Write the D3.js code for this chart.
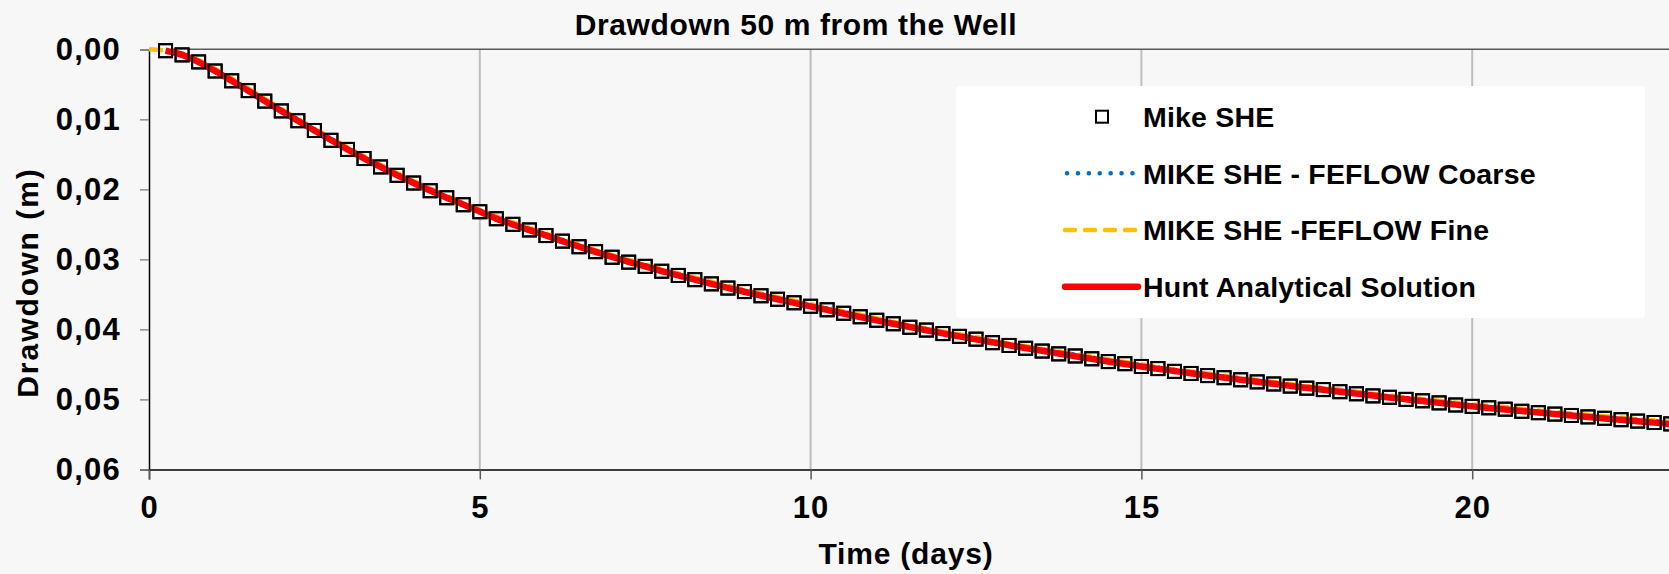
<!DOCTYPE html>
<html>
<head>
<meta charset="utf-8">
<script src="https://cdn.jsdelivr.net/npm/d3@7/dist/d3.min.js"></script>
<style>
  html, body { margin: 0; padding: 0; background: #f7f7f7; }
  svg { display: block; }
  text { font-family: "Liberation Sans", Arial, sans-serif; font-weight: bold; fill: #000; }
</style>
</head>
<body>
<svg id="chart" width="1669" height="574"></svg>
<script>
// Sample times (days) of the MIKE SHE output and the Hunt solution
const days = [
  0.25, 0.5, 0.75, 1, 1.25, 1.5, 1.75, 2, 2.25, 2.5, 2.75, 3, 3.25, 3.5, 3.75, 4, 4.25, 4.5, 4.75, 5,
  5.25, 5.5, 5.75, 6, 6.25, 6.5, 6.75, 7, 7.25, 7.5, 7.75, 8, 8.25, 8.5, 8.75, 9, 9.25, 9.5, 9.75, 10,
  10.25, 10.5, 10.75, 11, 11.25, 11.5, 11.75, 12, 12.25, 12.5, 12.75, 13, 13.25, 13.5, 13.75, 14, 14.25, 14.5, 14.75, 15,
  15.25, 15.5, 15.75, 16, 16.25, 16.5, 16.75, 17, 17.25, 17.5, 17.75, 18, 18.25, 18.5, 18.75, 19, 19.25, 19.5, 19.75, 20,
  20.25, 20.5, 20.75, 21, 21.25, 21.5, 21.75, 22, 22.25, 22.5, 22.75, 23
];

// Drawdown (m) simulated by MIKE SHE
const mikeShe = [
  0.0002, 0.0008, 0.0018, 0.0031, 0.0045, 0.0059, 0.0074, 0.0088, 0.0102, 0.0116, 0.0130, 0.0143, 0.0156, 0.0168, 0.0180, 0.0191, 0.0202, 0.0212, 0.0222, 0.0232,
  0.0242, 0.0250, 0.0258, 0.0266, 0.0274, 0.0282, 0.0289, 0.0297, 0.0304, 0.0310, 0.0317, 0.0323, 0.0329, 0.0335, 0.0341, 0.0346, 0.0352, 0.0357, 0.0362, 0.0367,
  0.0372, 0.0377, 0.0382, 0.0387, 0.0392, 0.0397, 0.0401, 0.0406, 0.0410, 0.0414, 0.0419, 0.0423, 0.0427, 0.0431, 0.0435, 0.0438, 0.0442, 0.0446, 0.0449, 0.0453,
  0.0456, 0.0460, 0.0463, 0.0466, 0.0469, 0.0472, 0.0475, 0.0478, 0.0481, 0.0484, 0.0486, 0.0489, 0.0492, 0.0495, 0.0497, 0.0500, 0.0502, 0.0505, 0.0508, 0.0510,
  0.0512, 0.0514, 0.0517, 0.0519, 0.0521, 0.0523, 0.0525, 0.0527, 0.0529, 0.0531, 0.0533, 0.0535
];

// Hunt analytical solution (m)
const hunt = [
  0.00018, 0.00079, 0.00181, 0.00310, 0.00449, 0.00592, 0.00737, 0.00880, 0.01021, 0.01160, 0.01296, 0.01429, 0.01557, 0.01680, 0.01797, 0.01909, 0.02016, 0.02119, 0.02218, 0.02318,
  0.02418, 0.02502, 0.02582, 0.02658, 0.02741, 0.02818, 0.02893, 0.02965, 0.03035, 0.03102, 0.03167, 0.03230, 0.03291, 0.03350, 0.03407, 0.03463, 0.03517, 0.03570, 0.03621, 0.03671,
  0.03722, 0.03773, 0.03823, 0.03872, 0.03920, 0.03966, 0.04012, 0.04057, 0.04100, 0.04143, 0.04185, 0.04226, 0.04267, 0.04306, 0.04345, 0.04383, 0.04421, 0.04458, 0.04494, 0.04530,
  0.04563, 0.04595, 0.04627, 0.04658, 0.04689, 0.04719, 0.04749, 0.04778, 0.04807, 0.04835, 0.04863, 0.04891, 0.04918, 0.04945, 0.04972, 0.04998, 0.05024, 0.05050, 0.05075, 0.05100,
  0.05122, 0.05144, 0.05166, 0.05188, 0.05209, 0.05230, 0.05251, 0.05272, 0.05292, 0.05312, 0.05332, 0.05352
];

// Coupled MIKE SHE - FEFLOW runs, half-day output
const fineDays = [
  0, 0.5, 1, 1.5, 2, 2.5, 3, 3.5, 4, 4.5, 5, 5.5, 6, 6.5, 7, 7.5, 8, 8.5, 9, 9.5, 10, 10.5, 11, 11.5,
  12, 12.5, 13, 13.5, 14, 14.5, 15, 15.5, 16, 16.5, 17, 17.5, 18, 18.5, 19, 19.5, 20, 20.5, 21, 21.5, 22, 22.5, 23
];
const feflowFine = [
  0, 0.0006, 0.0028, 0.0056, 0.0085, 0.0113, 0.0140, 0.0165, 0.0188, 0.0209, 0.0229, 0.0247, 0.0263, 0.0279, 0.0294, 0.0307, 0.0320, 0.0332, 0.0343, 0.0354, 0.0364, 0.0374, 0.0384, 0.0394,
  0.0403, 0.0411, 0.0420, 0.0428, 0.0435, 0.0443, 0.0450, 0.0457, 0.0463, 0.0469, 0.0475, 0.0481, 0.0486, 0.0492, 0.0497, 0.0502, 0.0507, 0.0511, 0.0516, 0.0520, 0.0524, 0.0528, 0.0532
];
const coarseDays = [
  0.5, 1, 1.5, 2, 2.5, 3, 3.5, 4, 4.5, 5, 5.5, 6, 6.5, 7, 7.5, 8, 8.5, 9, 9.5, 10, 10.5, 11, 11.5,
  12, 12.5, 13, 13.5, 14, 14.5, 15, 15.5, 16, 16.5, 17, 17.5, 18, 18.5, 19, 19.5, 20, 20.5, 21, 21.5, 22, 22.5, 23
];
const feflowCoarse = [
  0.0006, 0.0029, 0.0057, 0.0086, 0.0114, 0.0141, 0.0166, 0.0189, 0.0210, 0.0230, 0.0248, 0.0264, 0.0280, 0.0295, 0.0308, 0.0321, 0.0333, 0.0344, 0.0355, 0.0365, 0.0375, 0.0385, 0.0395,
  0.0404, 0.0412, 0.0421, 0.0429, 0.0436, 0.0444, 0.0451, 0.0458, 0.0464, 0.0470, 0.0476, 0.0482, 0.0487, 0.0493, 0.0498, 0.0503, 0.0508, 0.0512, 0.0517, 0.0521, 0.0525, 0.0529, 0.0533
];

const xTicks = [0, 5, 10, 15, 20];
const yTicks = [0, 0.01, 0.02, 0.03, 0.04, 0.05, 0.06];

const titleText = "Drawdown 50 m from the Well";
const xTitle = "Time (days)";
const yTitle = "Drawdown (m)";
const seriesNames = ["Mike SHE", "MIKE SHE - FEFLOW Coarse", "MIKE SHE -FEFLOW Fine", "Hunt Analytical Solution"];

const W = 1669, H = 574;
const svg = d3.select("#chart");

const x = d3.scaleLinear().domain([0, 25]).range([149, 1803]);
const y = d3.scaleLinear().domain([0, 0.06]).range([49.3, 469.4]);
const fmtY = v => d3.format(".2f")(v).replace(".", ",");

svg.append("rect").attr("width", W).attr("height", H).attr("fill", "#f7f7f7");

// vertical gridlines
svg.append("g").selectAll("line")
  .data(xTicks.filter(d => d > 0))
  .join("line")
  .attr("x1", d => x(d)).attr("x2", d => x(d))
  .attr("y1", y(0)).attr("y2", y(0.06))
  .attr("stroke", "#bdbdbd").attr("stroke-width", 2);

// top border of the plot area
svg.append("line")
  .attr("x1", x(0)).attr("x2", W).attr("y1", y(0)).attr("y2", y(0))
  .attr("stroke", "#595959").attr("stroke-width", 1.5);

// y axis
const yAxis = svg.append("g").attr("transform", `translate(${x(0)},0)`)
  .call(d3.axisLeft(y).tickValues(yTicks).tickSize(9).tickPadding(19).tickFormat(fmtY));
yAxis.select(".domain").attr("stroke", "#000").attr("stroke-width", 1.5);
yAxis.selectAll(".tick line").attr("stroke", "#8c8c8c").attr("stroke-width", 1.5);
yAxis.selectAll(".tick text").attr("font-size", 31).attr("letter-spacing", 1.2)
  .attr("font-family", null).attr("fill", "#000");

// x axis
const xAxis = svg.append("g").attr("transform", `translate(0,${y(0.06)})`)
  .call(d3.axisBottom(x).tickValues(xTicks).tickSize(10).tickPadding(17).tickFormat(d3.format("d")));
xAxis.select(".domain").attr("stroke", "#000").attr("stroke-width", 1.5);
xAxis.selectAll(".tick line").attr("stroke", "#595959").attr("stroke-width", 1.5);
xAxis.selectAll(".tick text").attr("font-size", 31).attr("letter-spacing", 1)
  .attr("font-family", null).attr("fill", "#000");

// titles
svg.append("text").attr("x", 796).attr("y", 35).attr("text-anchor", "middle")
  .attr("font-size", 30).attr("letter-spacing", 0.6).text(titleText);
svg.append("text").attr("x", 906).attr("y", 564).attr("text-anchor", "middle")
  .attr("font-size", 30).attr("letter-spacing", 0.8).text(xTitle);
svg.append("text").attr("transform", "translate(38,282.5) rotate(-90)").attr("text-anchor", "middle")
  .attr("font-size", 30).attr("letter-spacing", 2).text(yTitle);

// series
const sq = 13;
const markerData = days.map((d, i) => ({ t: d, v: mikeShe[i] }));
const marks = svg.append("g");
marks.selectAll("rect").data(markerData).join("rect")
  .attr("x", d => x(d.t) - sq / 2).attr("y", d => y(d.v) - sq / 2)
  .attr("width", sq).attr("height", sq)
  .attr("fill", "#fff").attr("stroke", "#000").attr("stroke-width", 2);

const line = d3.line().x(d => x(d[0])).y(d => y(d[1])).curve(d3.curveMonotoneX);

svg.append("path").datum(coarseDays.map((d, i) => [d, feflowCoarse[i]]))
  .attr("d", line).attr("fill", "none").attr("stroke", "#0070c0")
  .attr("stroke-width", 4.5).attr("stroke-linecap", "round").attr("stroke-dasharray", "0.1 10.8");
svg.append("path").datum(fineDays.map((d, i) => [d, feflowFine[i]]))
  .attr("d", line).attr("fill", "none").attr("stroke", "#ffc000")
  .attr("stroke-width", 4.5).attr("stroke-dasharray", "14 7");
svg.append("path").datum(days.map((d, i) => [d, hunt[i]]))
  .attr("d", line).attr("fill", "none").attr("stroke", "#ff0000")
  .attr("stroke-width", 6.5);

// marker outlines stay visible over the lines
svg.append("g").selectAll("rect").data(markerData).join("rect")
  .attr("x", d => x(d.t) - sq / 2).attr("y", d => y(d.v) - sq / 2)
  .attr("width", sq).attr("height", sq)
  .attr("fill", "none").attr("stroke", "#000").attr("stroke-width", 2);

// legend
const lg = svg.append("g");
lg.append("rect").attr("x", 956).attr("y", 86).attr("width", 689).attr("height", 232)
  .attr("rx", 4).attr("fill", "#fff");
const rowY = [116.7, 173.3, 230, 286.7];
const lx1 = 1065, lx2 = 1138;
lg.append("rect").attr("x", 1102 - 6).attr("y", rowY[0] - 6).attr("width", 12).attr("height", 12)
  .attr("fill", "#fff").attr("stroke", "#000").attr("stroke-width", 2);
lg.append("line").attr("x1", lx1 + 2).attr("x2", lx2).attr("y1", rowY[1]).attr("y2", rowY[1])
  .attr("stroke", "#0070c0").attr("stroke-width", 4.5).attr("stroke-linecap", "round").attr("stroke-dasharray", "0.1 10.8");
lg.append("line").attr("x1", lx1).attr("x2", lx2).attr("y1", rowY[2]).attr("y2", rowY[2])
  .attr("stroke", "#ffc000").attr("stroke-width", 4.5).attr("stroke-linecap", "round").attr("stroke-dasharray", "10 10");
lg.append("line").attr("x1", lx1).attr("x2", lx2).attr("y1", rowY[3]).attr("y2", rowY[3])
  .attr("stroke", "#ff0000").attr("stroke-width", 6.5).attr("stroke-linecap", "round");
lg.selectAll("text.lab").data(seriesNames).join("text").attr("class", "lab")
  .attr("x", 1143).attr("y", (d, i) => rowY[i]).attr("dy", "0.36em")
  .attr("font-size", 28.5).attr("letter-spacing", 0.2).text(d => d);
</script>
</body>
</html>
